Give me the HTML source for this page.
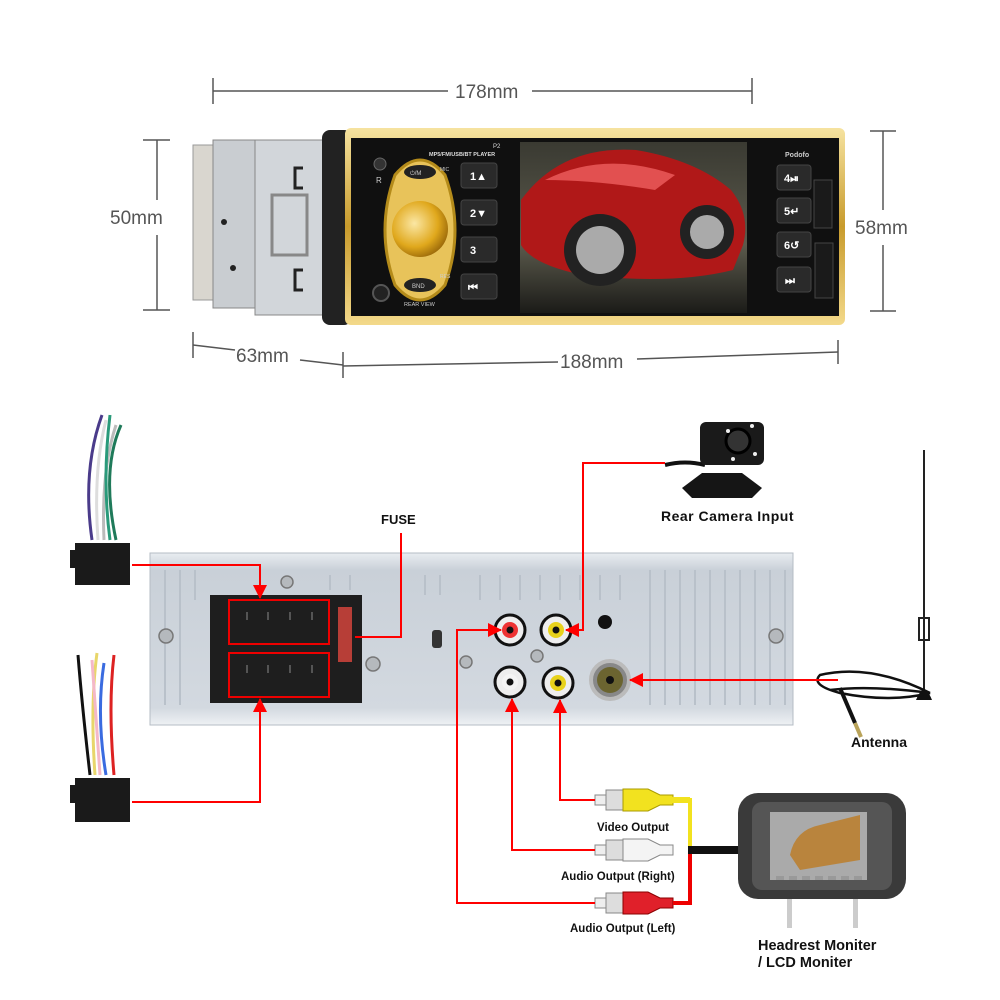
<!DOCTYPE html>
<html><head><meta charset="utf-8"><style>
html,body{margin:0;padding:0;background:#fff}
svg{display:block}
text{font-family:"Liberation Sans",sans-serif}
</style></head><body>
<svg width="1000" height="1000" viewBox="0 0 1000 1000" xmlns="http://www.w3.org/2000/svg">
<defs>
<linearGradient id="gold" x1="0" y1="0" x2="0" y2="1"><stop offset="0" stop-color="#f6e3a0"/><stop offset="0.5" stop-color="#c89b2c"/><stop offset="1" stop-color="#f3d98a"/></linearGradient>
<radialGradient id="knob" cx="0.4" cy="0.4" r="0.7"><stop offset="0" stop-color="#fbe7a4"/><stop offset="0.6" stop-color="#e0a81c"/><stop offset="1" stop-color="#8a5a05"/></radialGradient>
<linearGradient id="scr" x1="0" y1="0" x2="0" y2="1"><stop offset="0" stop-color="#3a3a32"/><stop offset="0.6" stop-color="#5b5a4c"/><stop offset="1" stop-color="#1b1b18"/></linearGradient>
<linearGradient id="panel" x1="0" y1="0" x2="0" y2="1"><stop offset="0" stop-color="#e9edf1"/><stop offset="0.1" stop-color="#c9d0d8"/><stop offset="0.9" stop-color="#d3d9e0"/><stop offset="1" stop-color="#eef1f4"/></linearGradient>
<marker id="ar2" markerWidth="14" markerHeight="14" refX="13" refY="7" orient="auto" markerUnits="userSpaceOnUse"><path d="M0,0 L14,7 L0,14 z" fill="#f00"/></marker>
</defs>

<g stroke="#555" stroke-width="1.5" fill="none">
<line x1="213" y1="91" x2="448" y2="91"/><line x1="532" y1="91" x2="752" y2="91"/>
<line x1="213" y1="78" x2="213" y2="104"/><line x1="752" y1="78" x2="752" y2="104"/>
<line x1="157" y1="140" x2="157" y2="200"/><line x1="157" y1="235" x2="157" y2="310"/>
<line x1="143" y1="140" x2="170" y2="140"/><line x1="143" y1="310" x2="170" y2="310"/>
<line x1="883" y1="131" x2="883" y2="210"/><line x1="883" y1="245" x2="883" y2="311"/>
<line x1="870" y1="131" x2="896" y2="131"/><line x1="870" y1="311" x2="896" y2="311"/>
<line x1="193" y1="332" x2="193" y2="358"/><line x1="193" y1="345" x2="235" y2="350"/><line x1="300" y1="360" x2="343" y2="365"/>
<line x1="343" y1="352" x2="343" y2="378"/>
<line x1="343" y1="366" x2="558" y2="362"/><line x1="637" y1="359" x2="838" y2="352"/>
<line x1="838" y1="340" x2="838" y2="364"/>
</g>
<g fill="#555" font-size="19">
<text x="455" y="98">178mm</text>
<text x="110" y="224">50mm</text>
<text x="855" y="234">58mm</text>
<text x="236" y="362">63mm</text>
<text x="560" y="368">188mm</text>
</g>

<rect x="193" y="145" width="22" height="155" fill="#d9d6cf" stroke="#999"/>
<rect x="213" y="140" width="45" height="168" fill="#c9cdd1" stroke="#888"/>
<rect x="255" y="140" width="68" height="175" fill="#d2d6da" stroke="#888"/>
<rect x="272" y="195" width="35" height="60" fill="none" stroke="#888" stroke-width="3"/>
<path d="M303 168 h-8 v20 h8 M303 270 h-8 v20 h8" fill="none" stroke="#222" stroke-width="3"/>
<circle cx="224" cy="222" r="3" fill="#222"/><circle cx="233" cy="268" r="3" fill="#222"/>
<rect x="322" y="130" width="30" height="195" rx="8" fill="#222"/>
<rect x="345" y="128" width="500" height="197" rx="6" fill="url(#gold)"/>
<rect x="351" y="138" width="488" height="178" fill="#101010"/>
<path d="M395 175 q25 -30 50 0 q20 55 0 110 q-25 30 -50 0 q-20 -55 0 -110z" fill="#e8c35a" stroke="#b48b1a" stroke-width="3"/>
<circle cx="420" cy="229" r="28" fill="url(#knob)"/>
<ellipse cx="420" cy="172" rx="16" ry="7" fill="#222"/><ellipse cx="420" cy="285" rx="16" ry="7" fill="#222"/>
<text x="410" y="175" font-size="6" fill="#ccc">⏻/M</text><text x="412" y="288" font-size="6" fill="#ccc">BND</text>
<circle cx="380" cy="164" r="6" fill="#333" stroke="#666"/><text x="376" y="183" font-size="8" fill="#ccc">R</text>
<circle cx="381" cy="293" r="8" fill="#222" stroke="#555" stroke-width="2"/>
<text x="429" y="156" font-size="5.5" fill="#ddd" font-weight="bold">MP5/FM/USB/BT PLAYER</text>
<text x="493" y="148" font-size="6" fill="#ddd">P2</text>
<text x="440" y="171" font-size="5" fill="#ccc">MIC</text><text x="440" y="278" font-size="5" fill="#ccc">RES</text>
<text x="404" y="306" font-size="5.5" fill="#ccc">REAR VIEW</text>
<g fill="#2a2a2a" stroke="#444">
<rect x="461" y="163" width="36" height="25" rx="3"/><rect x="461" y="200" width="36" height="25" rx="3"/>
<rect x="461" y="237" width="36" height="25" rx="3"/><rect x="461" y="274" width="36" height="25" rx="3"/>
<rect x="777" y="165" width="34" height="25" rx="3"/><rect x="777" y="198" width="34" height="25" rx="3"/>
<rect x="777" y="232" width="34" height="25" rx="3"/><rect x="777" y="267" width="34" height="25" rx="3"/>
</g>
<g fill="#fff" font-size="11" font-weight="bold">
<text x="470" y="180">1▲</text><text x="470" y="217">2▼</text><text x="470" y="254">3</text><text x="468" y="291">⏮</text>
<text x="784" y="182">4⏯</text><text x="784" y="215">5↵</text><text x="784" y="249">6↺</text><text x="785" y="284">⏭</text>
</g>
<text x="785" y="157" font-size="7" fill="#ccc" font-weight="bold">Podofo</text>
<rect x="814" y="180" width="18" height="48" fill="#1a1a1a" stroke="#444"/>
<rect x="815" y="243" width="18" height="55" fill="#1a1a1a" stroke="#444"/>
<rect x="520" y="142" width="227" height="171" fill="url(#scr)"/>
<path d="M521 200 q40 -55 115 -50 q60 10 95 40 q20 25 12 55 l-10 25 q-60 15 -150 5 q-50 -10 -62 -30z" fill="#b01818"/>
<path d="M545 180 q60 -30 130 -5 l-20 15 q-60 -10 -110 -10z" fill="#e25050"/>
<circle cx="600" cy="250" r="36" fill="#222"/><circle cx="600" cy="250" r="24" fill="#aaa"/>
<circle cx="707" cy="232" r="27" fill="#222"/><circle cx="707" cy="232" r="17" fill="#aaa"/>

<rect x="150" y="553" width="643" height="172" fill="url(#panel)" stroke="#b5bcc4"/>
<g stroke="#b9c1ca" stroke-width="2">
<line x1="165" y1="570" x2="165" y2="705"/><line x1="180" y1="570" x2="180" y2="705"/><line x1="195" y1="570" x2="195" y2="600"/>
<line x1="650" y1="570" x2="650" y2="705"/><line x1="665" y1="570" x2="665" y2="705"/><line x1="680" y1="570" x2="680" y2="705"/>
<line x1="695" y1="570" x2="695" y2="705"/><line x1="710" y1="570" x2="710" y2="705"/><line x1="725" y1="570" x2="725" y2="705"/>
<line x1="740" y1="570" x2="740" y2="705"/><line x1="755" y1="570" x2="755" y2="705"/><line x1="770" y1="570" x2="770" y2="705"/><line x1="785" y1="570" x2="785" y2="705"/>
<line x1="330" y1="575" x2="330" y2="590"/><line x1="350" y1="575" x2="350" y2="590"/><line x1="425" y1="575" x2="425" y2="595"/><line x1="440" y1="575" x2="440" y2="595"/>
<line x1="480" y1="575" x2="480" y2="600"/><line x1="500" y1="575" x2="500" y2="600"/><line x1="520" y1="575" x2="520" y2="600"/><line x1="540" y1="575" x2="540" y2="600"/><line x1="560" y1="575" x2="560" y2="600"/><line x1="580" y1="575" x2="580" y2="600"/><line x1="600" y1="575" x2="600" y2="600"/><line x1="620" y1="575" x2="620" y2="600"/>
</g>
<g fill="#b5b9bd" stroke="#777" stroke-width="1.5">
<circle cx="166" cy="636" r="7"/><circle cx="373" cy="664" r="7"/><circle cx="466" cy="662" r="6"/><circle cx="537" cy="656" r="6"/><circle cx="776" cy="636" r="7"/><circle cx="287" cy="582" r="6"/>
</g>
<rect x="210" y="595" width="152" height="108" fill="#1e1e1e"/>
<rect x="338" y="607" width="14" height="55" fill="#d2443c" opacity="0.85"/>
<g stroke="#666" stroke-width="1.5">
<line x1="247" y1="612" x2="247" y2="620"/><line x1="268" y1="612" x2="268" y2="620"/><line x1="290" y1="612" x2="290" y2="620"/><line x1="312" y1="612" x2="312" y2="620"/>
<line x1="247" y1="665" x2="247" y2="673"/><line x1="268" y1="665" x2="268" y2="673"/><line x1="290" y1="665" x2="290" y2="673"/><line x1="312" y1="665" x2="312" y2="673"/>
</g>
<rect x="229" y="600" width="100" height="44" fill="none" stroke="#e00" stroke-width="2"/>
<rect x="229" y="653" width="100" height="44" fill="none" stroke="#e00" stroke-width="2"/>
<rect x="432" y="630" width="10" height="18" rx="3" fill="#333"/>
<circle cx="605" cy="622" r="7" fill="#111"/>
<g stroke="#111" stroke-width="3">
<circle cx="510" cy="630" r="15" fill="#eee"/><circle cx="556" cy="630" r="15" fill="#eee"/>
<circle cx="510" cy="682" r="15" fill="#eee"/><circle cx="558" cy="683" r="15" fill="#eee"/>
</g>
<circle cx="510" cy="630" r="8" fill="#e33"/><circle cx="556" cy="630" r="8" fill="#e8d21a"/>
<circle cx="510" cy="682" r="8" fill="#f4f4f4"/><circle cx="558" cy="683" r="8" fill="#e8d21a"/>
<circle cx="510" cy="630" r="3.5" fill="#111"/><circle cx="556" cy="630" r="3.5" fill="#111"/><circle cx="510" cy="682" r="3.5" fill="#111"/><circle cx="558" cy="683" r="3.5" fill="#111"/>
<circle cx="610" cy="680" r="19" fill="#888" stroke="#bbb" stroke-width="4"/><circle cx="610" cy="680" r="13" fill="#6b6430"/><circle cx="610" cy="680" r="4" fill="#111"/>

<g fill="none" stroke-width="3">
<path d="M92 540 q-10 -70 10 -125" stroke="#4a3b8a"/><path d="M98 540 q-5 -70 8 -120" stroke="#ddd"/><path d="M104 540 q-3 -70 12 -115" stroke="#bbb"/><path d="M110 540 q-8 -60 0 -125" stroke="#2a9a7a"/><path d="M116 540 q-15 -70 5 -115" stroke="#1f7a5a"/>
<path d="M90 775 q-8 -70 -12 -120" stroke="#111"/><path d="M95 775 q-5 -70 2 -122" stroke="#e8d66a"/><path d="M100 775 q-5 -70 -8 -115" stroke="#f4b8c8"/><path d="M106 775 q-10 -60 -2 -112" stroke="#3a6be0"/><path d="M114 775 q-6 -70 0 -120" stroke="#d22"/>
</g>
<rect x="75" y="543" width="55" height="42" fill="#1a1a1a"/><rect x="70" y="550" width="8" height="18" fill="#1a1a1a"/>
<rect x="75" y="778" width="55" height="44" fill="#1a1a1a"/><rect x="70" y="785" width="8" height="18" fill="#1a1a1a"/>

<path d="M665 465 q20 -5 40 0" stroke="#111" stroke-width="4" fill="none"/>
<rect x="700" y="422" width="64" height="43" rx="6" fill="#1a1a1a"/>
<circle cx="738" cy="441" r="12" fill="#333" stroke="#000" stroke-width="3"/>
<circle cx="728" cy="431" r="2" fill="#eee"/><circle cx="752" cy="426" r="2" fill="#eee"/><circle cx="733" cy="459" r="2" fill="#eee"/><circle cx="755" cy="454" r="2" fill="#eee"/>
<path d="M682 488 l20 -15 h40 l20 15 l-10 10 h-60z" fill="#151515"/>
<line x1="924" y1="450" x2="924" y2="690" stroke="#222" stroke-width="2"/>
<rect x="919" y="618" width="10" height="22" fill="none" stroke="#222" stroke-width="2"/>
<path d="M916 700 q8 -20 16 0z" fill="#111"/>
<path d="M930 693 q-60 -30 -110 -18 q-10 10 20 18 q50 10 90 0 q-60 -8 -100 -3" stroke="#111" stroke-width="2.5" fill="none"/>
<path d="M840 688 l15 35" stroke="#111" stroke-width="4"/><path d="M855 723 l6 14" stroke="#b9a35a" stroke-width="4"/>

<g>
<rect x="595" y="795" width="12" height="10" fill="#eee" stroke="#888"/><rect x="606" y="790" width="18" height="20" fill="#ddd" stroke="#888"/>
<path d="M623 789 h25 l12 6 h13 v10 h-13 l-12 6 h-25z" fill="#f2e21f" stroke="#a99b00"/>
<rect x="672" y="797" width="18" height="6" fill="#f2e21f"/>
<rect x="595" y="845" width="12" height="10" fill="#eee" stroke="#888"/><rect x="606" y="840" width="18" height="20" fill="#ddd" stroke="#888"/>
<path d="M623 839 h25 l12 6 h13 v10 h-13 l-12 6 h-25z" fill="#f4f4f4" stroke="#888"/>
<rect x="595" y="898" width="12" height="10" fill="#eee" stroke="#888"/><rect x="606" y="893" width="18" height="20" fill="#ddd" stroke="#888"/>
<path d="M623 892 h25 l12 6 h13 v10 h-13 l-12 6 h-25z" fill="#e0202a" stroke="#8a0000"/>
<path d="M673 800 h17 v50" stroke="#f2e21f" stroke-width="4" fill="none"/>
<path d="M673 903 h17 v-53" stroke="#e00" stroke-width="4" fill="none"/>
<rect x="688" y="846" width="50" height="8" fill="#111"/>
</g>
<rect x="787" y="890" width="5" height="38" fill="#ccc"/><rect x="853" y="890" width="5" height="38" fill="#ccc"/>
<rect x="738" y="793" width="168" height="106" rx="20" fill="#3a3a3a"/>
<rect x="752" y="802" width="140" height="88" rx="10" fill="#555"/>
<rect x="770" y="812" width="97" height="68" fill="#aaa"/>
<path d="M790 855 q5 -25 30 -30 l40 -10 v45 l-60 10z" fill="#b9843d"/>
<g fill="#999"><rect x="776" y="876" width="8" height="4"/><rect x="789" y="876" width="8" height="4"/><rect x="802" y="876" width="8" height="4"/><rect x="815" y="876" width="8" height="4"/><rect x="828" y="876" width="8" height="4"/><rect x="841" y="876" width="8" height="4"/><rect x="854" y="876" width="8" height="4"/></g>

<g stroke="#f00" stroke-width="2" fill="none">
<polyline points="132,565 260,565 260,598" marker-end="url(#ar2)"/>
<polyline points="132,802 260,802 260,699" marker-end="url(#ar2)"/>
<polyline points="401,533 401,637 355,637"/>
<polyline points="665,463 583,463 583,630 566,630" marker-end="url(#ar2)"/>
<polyline points="838,680 630,680" marker-end="url(#ar2)"/>
<polyline points="595,800 560,800 560,700" marker-end="url(#ar2)"/>
<polyline points="595,850 512,850 512,699" marker-end="url(#ar2)"/>
<polyline points="595,903 457,903 457,630 501,630" marker-end="url(#ar2)"/>
</g>

<g font-weight="bold" fill="#111">
<text x="381" y="524" font-size="13">FUSE</text>
<text x="661" y="521" font-size="14" letter-spacing="0.5">Rear  Camera  Input</text>
<text x="851" y="747" font-size="14">Antenna</text>
<text x="597" y="831" font-size="11.5">Video  Output</text>
<text x="561" y="880" font-size="11.5">Audio Output (Right)</text>
<text x="570" y="932" font-size="11.5">Audio  Output (Left)</text>
<text x="758" y="950" font-size="14.5">Headrest Moniter</text>
<text x="758" y="967" font-size="14.5">/ LCD Moniter</text>
</g>
</svg>
</body></html>
